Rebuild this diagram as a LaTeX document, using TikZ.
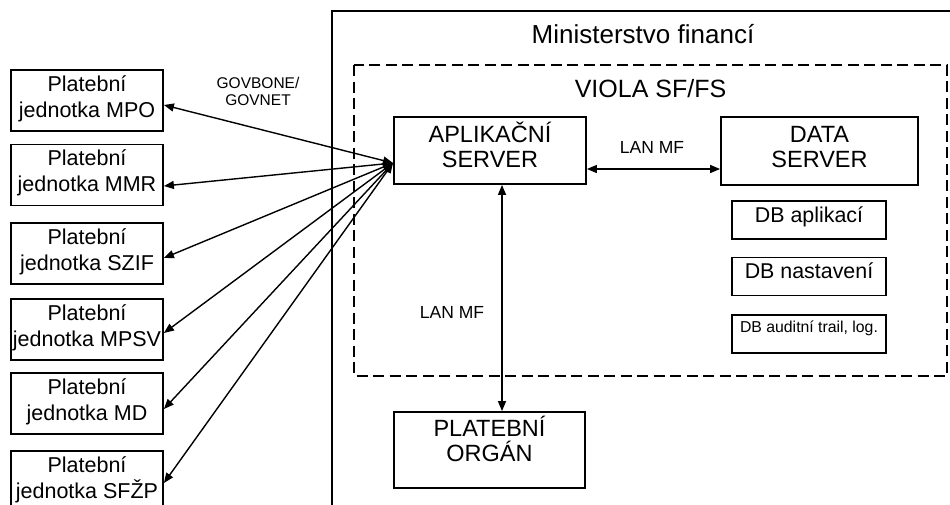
\documentclass[tikz,border=0pt]{standalone}
\usepackage{fontspec}
\setmainfont{Liberation Sans}
\usetikzlibrary{arrows.meta}
\newcommand\mybx[3]{\rule{0pt}{#1pt}#3\rule[-#2pt]{0pt}{#2pt}}
\begin{document}
\begin{tikzpicture}[x=1pt,y=-1pt,
  box/.style={draw, line width=1.8pt, inner sep=0pt, align=center},
  pj/.style={box, minimum width=152pt, minimum height=61pt, font=\fontsize{21.5}{26}\selectfont},
  srv/.style={box, font=\fontsize{23.5}{25.5}\selectfont},
  db/.style={box, minimum width=154pt, minimum height=38pt, font=\fontsize{21.4}{26}\selectfont},
  lbl/.style={inner sep=0pt, anchor=base},
  tip/.tip={Triangle[length=10pt,width=8pt]},
  conn/.style={line width=1.4pt, tip-tip},
]
\useasboundingbox (0,0) rectangle (950,504);
\clip (0,0) rectangle (950,504);
% containers
\draw[line width=1.5pt] (332,11) rectangle (980,540);
\draw[line width=1.8pt, dash pattern=on 11pt off 5.5pt] (354,65) rectangle (947,376);
% titles
\node[lbl, font=\fontsize{26}{30}\selectfont] (t1) at (643,43) {Ministerstvo financí};
\node[lbl, font=\fontsize{25}{30}\selectfont] (t2) at (650.5,97) {VIOLA SF/FS};
\node[lbl, font=\fontsize{17.5}{20}\selectfont] (lan1) at (652,153) {LAN MF};
\node[lbl, font=\fontsize{17.5}{20}\selectfont] (lan2) at (452,318) {LAN MF};
\node[inner sep=0pt, align=center, font=\fontsize{15.5}{17}\selectfont] (gv) at (258,91) {GOVBONE/\\GOVNET};
% paying units
\node[pj] (m1) at (87,100.5) {\mybx{20}{13}{Platební\\jednotka MPO}};
\node[pj] (m2) at (87,175) {\mybx{20}{13}{Platební\\jednotka MMR}};
\node[pj] (m3) at (87,253.5) {\mybx{20}{13}{Platební\\jednotka SZIF}};
\node[pj] (m4) at (87,329.5) {\mybx{20}{13}{Platební\\jednotka MPSV}};
\node[pj] (m5) at (87,403.5) {\mybx{20}{13}{Platební\\jednotka MD}};
\node[pj] (m6) at (87,481.5) {\mybx{20}{13}{Platební\\jednotka SFŽP}};
% servers
\node[srv, minimum width=192pt, minimum height=67pt] (ap) at (490,150.5) {\mybx{22}{13}{APLIKAČNÍ\\SERVER}};
\node[srv, minimum width=197pt, minimum height=68pt] (ds) at (819.5,151) {\mybx{22}{14}{DATA\\SERVER}};
\node[srv, minimum width=191pt, minimum height=76pt] (po) at (489.5,450) {\mybx{22}{24}{PLATEBNÍ\\ORGÁN}};
% databases
\node[db] (d1) at (809,220) {\mybx{20}{16}{DB aplikací}};
\node[db] (d2) at (809,276.5) {\mybx{20}{17}{DB nastavení}};
\node[db, font=\fontsize{15.8}{18}\selectfont] (d3) at (809,334) {\mybx{15}{19}{DB auditní trail, log.}};
% connectors
\coordinate (cv) at (393,163);
\coordinate (vx) at (502,0);
\coordinate (hy) at (0,169);
\draw[conn] ([yshift=-4.5pt]m1.east) -- (cv);
\draw[conn] ([yshift=-11pt]m2.east) -- (cv);
\draw[conn] ([yshift=-4.5pt]m3.east) -- (cv);
\draw[conn] ([yshift=-3.5pt]m4.east) -- (cv);
\draw[conn] ([yshift=-5.5pt]m5.east) -- (cv);
\draw[conn] ([yshift=-1.5pt]m6.east) -- (cv);
\draw[conn] (ap.east |- hy) -- (ds.west |- hy);
\draw[conn] (ap.south -| vx) -- (po.north -| vx);
\end{tikzpicture}
\end{document}
